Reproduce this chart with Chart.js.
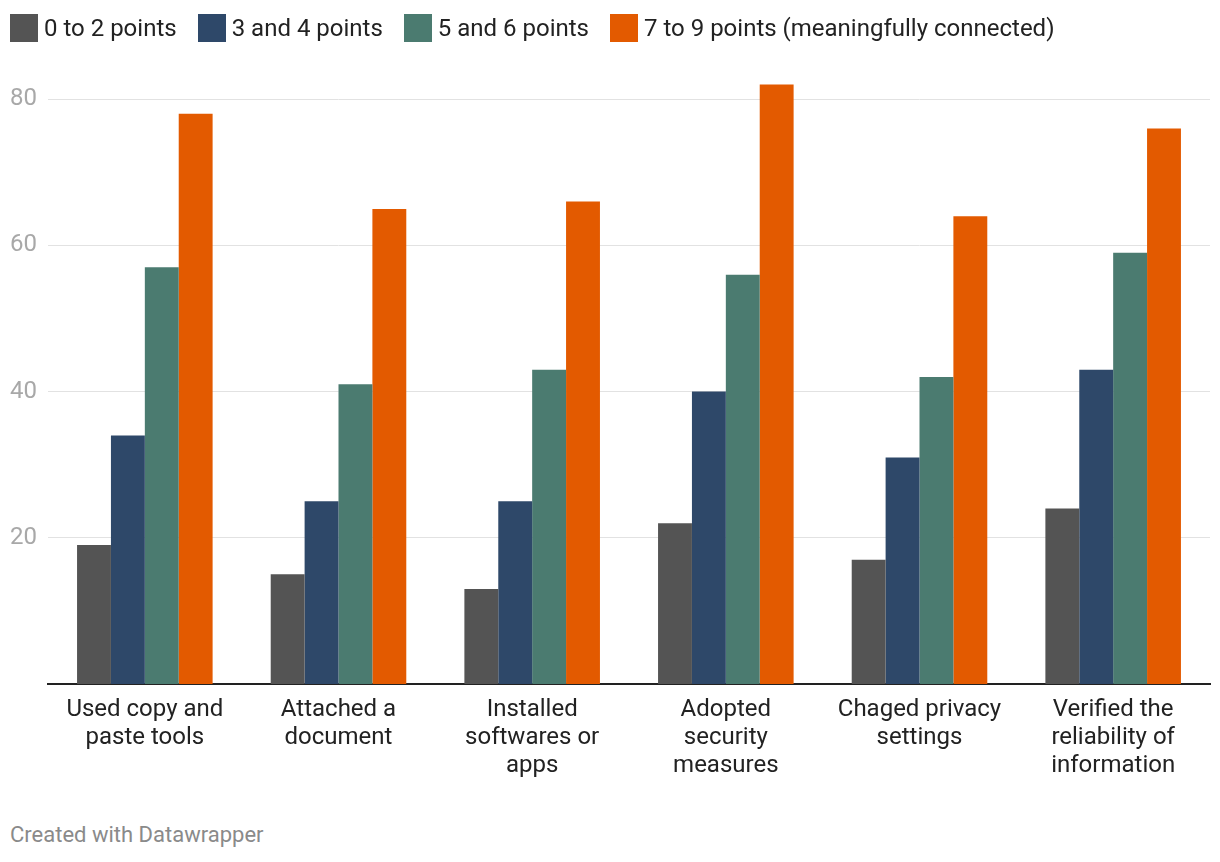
<!DOCTYPE html>
<html>
<head>
<meta charset="utf-8">
<script src="https://cdn.jsdelivr.net/npm/chart.js@4/dist/chart.umd.min.js"></script>
<style>
  html, body { margin: 0; padding: 0; background: #fff; }
  #wrap { position: relative; width: 1220px; height: 862px; }
  #chart { position: absolute; left: 0; top: 0; }
  #legenda { position: absolute; left: 10px; top: 14px; display: flex; font: 24px Roboto, sans-serif; color: #222; }
  #legenda .item { display: flex; align-items: center; margin-right: 21px; height: 28px; line-height: 24px; }
  #legenda .cor { width: 28px; height: 28px; margin-right: 6px; }
  #footer { position: absolute; left: 10px; top: 822px; font: 22px Roboto, sans-serif; color: #8a8a8a; }
</style>
</head>
<body>
<div id="wrap">
  <canvas id="chart" width="1220" height="806"></canvas>
  <div id="legenda"></div>
  <div id="footer">Created with Datawrapper</div>
</div>
<script>
// categorias (rótulos do eixo x, quebrados em linhas)
const categorias = [
  ['Used copy and', 'paste tools'],
  ['Attached a', 'document'],
  ['Installed', 'softwares or', 'apps'],
  ['Adopted', 'security', 'measures'],
  ['Chaged privacy', 'settings'],
  ['Verified the', 'reliability of', 'information']
];

const nomesSeries = ['0 to 2 points', '3 and 4 points', '5 and 6 points', '7 to 9 points (meaningfully connected)'];
const cores = ['#545454', '#2e4869', '#4b7b70', '#e35a00'];

// valores
const pontos0a2 = [19, 15, 13, 22, 17, 24];
const pontos3e4 = [34, 25, 25, 40, 31, 43];
const pontos5e6 = [57, 41, 43, 56, 42, 59];
const pontos7a9 = [78, 65, 66, 82, 64, 76];

const ticksY = [20, 40, 60, 80];

const valores = [pontos0a2, pontos3e4, pontos5e6, pontos7a9];

// legenda em html, mais fácil de posicionar
const legenda = document.getElementById('legenda');
nomesSeries.forEach((nome, i) => {
  const item = document.createElement('div');
  item.className = 'item';
  item.innerHTML = `<span class="cor" style="background:${cores[i]}"></span><span>${nome}</span>`;
  legenda.appendChild(item);
});

const ctx = document.getElementById('chart').getContext('2d');

new Chart(ctx, {
  type: 'bar',
  data: {
    labels: categorias,
    datasets: nomesSeries.map((nome, i) => ({
      label: nome,
      data: valores[i],
      backgroundColor: cores[i],
      borderWidth: 0,
      categoryPercentage: 0.7,
      barPercentage: 1
    }))
  },
  options: {
    responsive: false,
    animation: false,
    layout: { padding: { left: 10, right: 10, top: 70, bottom: 22 } },
    plugins: {
      legend: { display: false },
      tooltip: { enabled: false }
    },
    scales: {
      x: {
        grid: { display: false },
        border: { color: '#222', width: 2 },
        ticks: {
          font: { family: 'Roboto', size: 24, lineHeight: 1.167 },
          color: '#222',
          maxRotation: 0,
          autoSkip: false,
          padding: 4
        }
      },
      y: {
        min: 0,
        max: 84,
        afterBuildTicks: axis => { axis.ticks = ticksY.map(v => ({ value: v })); },
        afterFit: axis => { axis.width = 38; },
        grid: { color: '#e2e2e2', lineWidth: 1, drawTicks: false },
        border: { display: false },
        ticks: {
          font: { family: 'Roboto', size: 24 },
          color: '#a8a8a8',
          crossAlign: 'far',
          padding: 0
        }
      }
    }
  }
});
</script>
</body>
</html>
